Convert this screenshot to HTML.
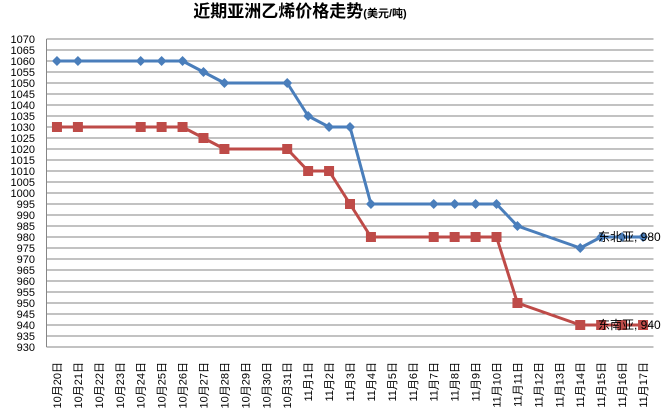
<!DOCTYPE html>
<html><head><meta charset="utf-8"><style>
body{margin:0;background:#fff;}
svg{display:block;font-family:"Liberation Sans","Noto Sans CJK SC",sans-serif;}
</style></head><body>
<svg id="c" width="669" height="416">
<text x="300" y="17" text-anchor="middle" font-size="17" font-weight="bold" fill="#000">近期亚洲乙烯价格走势<tspan font-size="11">(美元/吨)</tspan></text>
</svg>
<script>
const categories=["10月20日","10月21日","10月22日","10月23日","10月24日","10月25日","10月26日","10月27日","10月28日","10月29日","10月30日","10月31日","11月1日","11月2日","11月3日","11月4日","11月5日","11月6日","11月7日","11月8日","11月9日","11月10日","11月11日","11月12日","11月13日","11月14日","11月15日","11月16日","11月17日"];
const northeast=[1060,1060,null,null,1060,1060,1060,1055,1050,null,null,1050,1035,1030,1030,995,null,null,995,995,995,995,985,null,null,975,980,980,980];
const southeast=[1030,1030,null,null,1030,1030,1030,1025,1020,null,null,1020,1010,1010,995,980,null,null,980,980,980,980,950,null,null,940,940,940,940];
const yTicks=[];for(let v=930;v<=1070;v+=5)yTicks.push(v);
const ns="http://www.w3.org/2000/svg",svg=document.getElementById('c');
const L=46.5,R=653.5,T=39,B=347,yMin=930,yMax=1070;
const xs=i=>L+(i+0.5)*(R-L)/categories.length;
const ys=v=>B-(v-yMin)/(yMax-yMin)*(B-T);
function mk(t,a,p){const e=document.createElementNS(ns,t);for(const k in a)e.setAttribute(k,a[k]);(p||svg).appendChild(e);return e;}
yTicks.forEach(v=>{
 const g=mk('line',{x1:L,x2:R,y1:ys(v),y2:ys(v),stroke:'#868686','stroke-width':1});
 
 
 const t=mk('text',{x:35,y:ys(v)+4,'text-anchor':'end','font-size':11,fill:'#000'});
 t.textContent=v;
 
 
});
const ax=mk('line',{x1:L,x2:L,y1:T,y2:B,stroke:'#868686'});


categories.forEach((c,i)=>{
 const t=mk('text',{transform:`translate(${xs(i)+4},362) rotate(-90)`,'text-anchor':'end','font-size':11,fill:'#000'});
 t.textContent=c;
 
 
});
function series(data,color,marker,name,label){
 const pts=[];data.forEach((v,i)=>{if(v!==null)pts.push([xs(i),ys(v)]);});
 const p=mk('polyline',{points:pts.map(p=>p.join(',')).join(' '),fill:'none',stroke:color,'stroke-width':3,'stroke-linejoin':'round'});
 
 
 pts.forEach(([x,y])=>{
  let m;
  if(marker==='d')m=mk('polygon',{points:`${x},${y-5} ${x+5},${y} ${x},${y+5} ${x-5},${y}`,fill:color});
  else m=mk('rect',{x:x-5,y:y-5,width:10,height:10,fill:color});
  
  
 });
 const last=data[data.length-1];
 const t=mk('text',{x:598,y:ys(last)+4,'font-size':12,fill:'#000'});
 t.textContent=label+', '+last;
 
 
}
series(northeast,'#4a7ebb','d','northeast-asia','东北亚');
series(southeast,'#be4b48','s','southeast-asia','东南亚');
</script>
</body></html>
